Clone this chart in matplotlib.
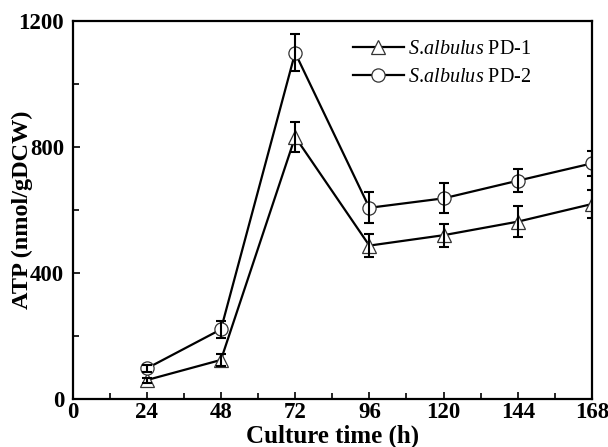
import matplotlib
matplotlib.use("Agg")
import matplotlib.pyplot as plt
from matplotlib.ticker import MultipleLocator

plt.rcParams['font.family'] = ['Liberation Serif', 'DejaVu Serif']
plt.rcParams['mathtext.fontset'] = 'custom'
plt.rcParams['mathtext.rm'] = 'Liberation Serif'
plt.rcParams['mathtext.it'] = 'Liberation Serif:italic'
plt.rcParams['mathtext.bf'] = 'Liberation Serif:bold'

time_h = [24, 48, 72, 96, 120, 144, 168]
pd1 = [60, 124, 832, 487, 520, 563, 619]
pd1_err = [8, 20, 47, 36, 36, 49, 45]
pd2 = [97, 221, 1099, 607, 637, 693, 748]
pd2_err = [11, 26, 59, 49, 48, 36, 40]
labels = [r'$\mathit{S.}\!\mathit{albulus}$ PD-1', r'$\mathit{S.}\!\mathit{albulus}$ PD-2']
x_ticks = [0, 24, 48, 72, 96, 120, 144, 168]
y_ticks = [0, 400, 800, 1200]

fig = plt.figure(figsize=(6.08, 4.47), dpi=100)
ax = fig.add_axes([72.5/608, 48/447, (592-72.5)/608, (399-21)/447])

for y, err, mk, lab in [(pd1, pd1_err, '^', labels[0]), (pd2, pd2_err, 'o', labels[1])]:
    ax.plot(time_h, y, color='black', lw=1.6, marker=mk, markersize=9.5,
            markerfacecolor='white', markeredgecolor='#333333', markeredgewidth=0.9,
            label=lab, zorder=2)
    ax.errorbar(time_h, y, yerr=err, fmt='none', ecolor='black', elinewidth=1.5,
                capsize=3.6, capthick=1.5, zorder=3)

ax.set_xlim(0, 168)
ax.set_ylim(0, 1200)
ax.set_xticks(x_ticks)
ax.set_yticks(y_ticks)
ax.xaxis.set_minor_locator(MultipleLocator(12))
ax.yaxis.set_minor_locator(MultipleLocator(200))
ax.tick_params(which='both', direction='in', top=False, right=False, width=1.2)
ax.tick_params(which='major', length=5, labelsize=16.5)
ax.tick_params(axis='x', which='major', pad=2)
ax.tick_params(axis='y', which='major', pad=6)
ax.tick_params(which='minor', length=4)
for lbl in ax.get_xticklabels() + ax.get_yticklabels():
    lbl.set_fontweight('bold')
for s in ax.spines.values():
    s.set_linewidth(1.6)

ax.set_xlabel('Culture time (h)', fontsize=18, fontweight='bold')
ax.xaxis.set_label_coords(0.5, -0.068)
ax.set_ylabel('ATP (nmol/gDCW)', fontsize=17.5, fontweight='bold')
ax.yaxis.set_label_coords(-0.076, 0.5)

leg = ax.legend(loc='upper left', bbox_to_anchor=(0.525, 0.97), frameon=False,
                fontsize=14.5, handlelength=2.5, handletextpad=0.2, labelspacing=0.4,
                borderaxespad=0)

fig.savefig('out.png', dpi=100)
